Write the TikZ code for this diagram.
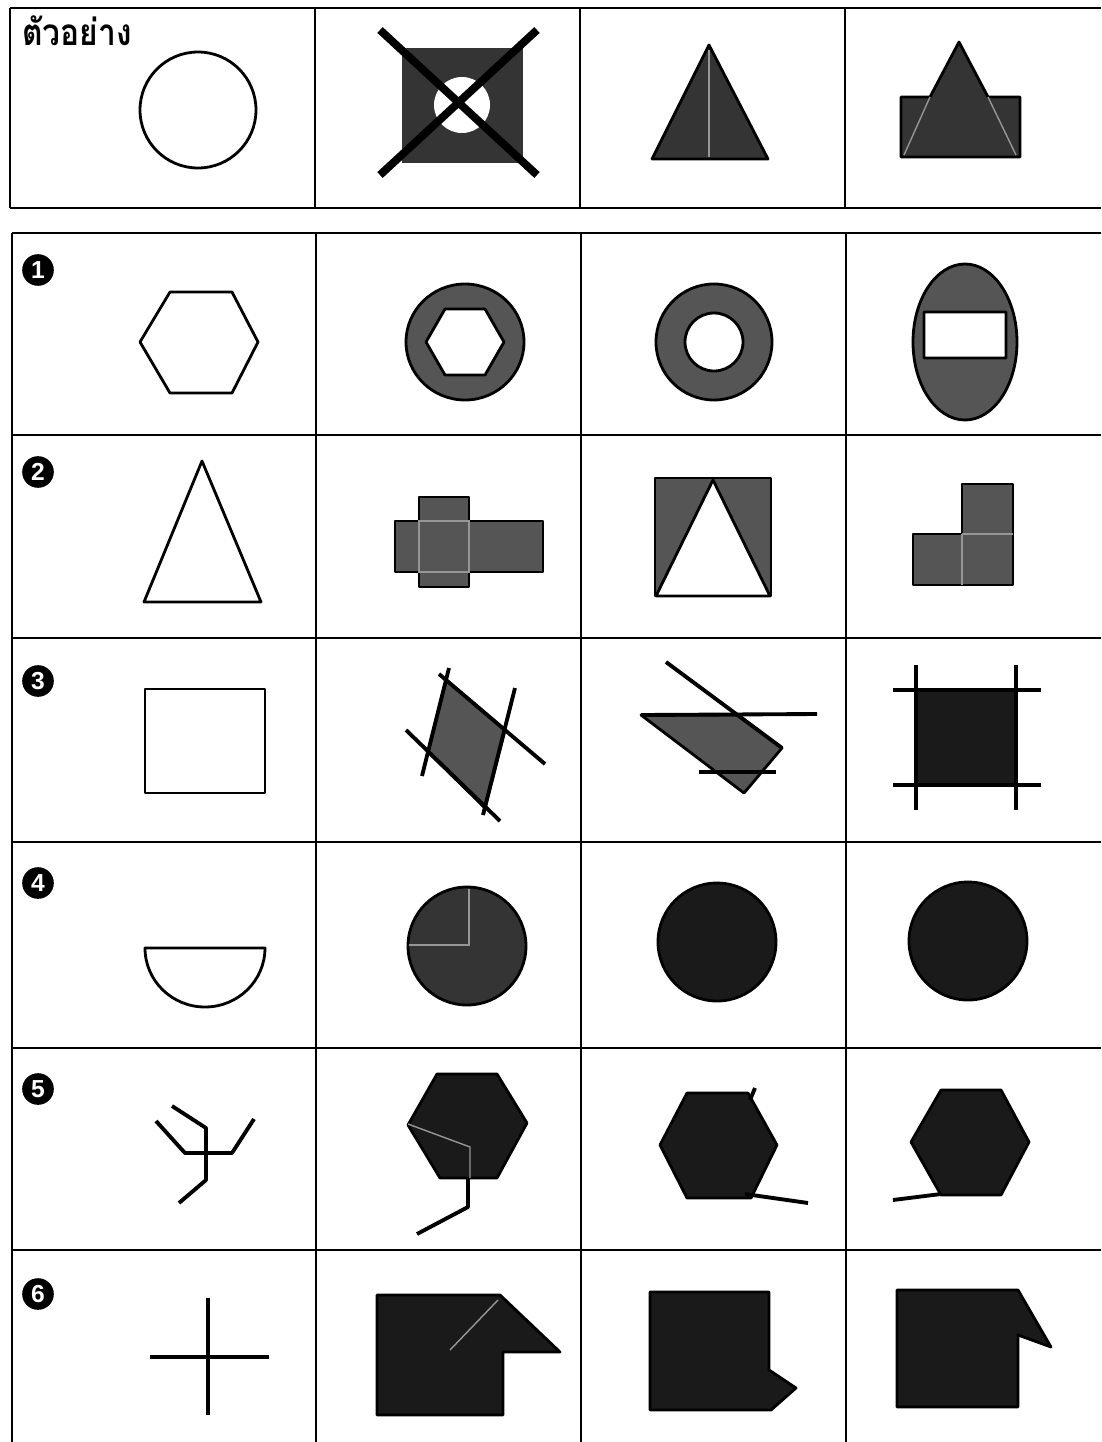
\documentclass[tikz,border=0pt]{standalone}
\usepackage{fontspec}
\setsansfont{Liberation Sans}
\newfontfamily\thaifont[Script=Thai]{Loma}
\usetikzlibrary{positioning,calc}
\definecolor{shgray}{RGB}{85,85,85}
\definecolor{shdark}{RGB}{52,52,52}
\definecolor{shblack}{RGB}{26,26,26}
\definecolor{ghostgray}{RGB}{150,150,150}

\begin{document}
\begin{tikzpicture}[x=0.2mm, y=-0.2mm,
  hline/.style={line width=1.3pt},
  vline/.style={line width=0.7pt},
  outl/.style={draw=black, line width=1.6pt, line join=round},
  shp/.style={draw=black, line width=1.6pt, line join=round, fill=#1},
  ghost/.style={draw=ghostgray, line width=0.8pt},
  stick/.style={line width=2.2pt, line join=round},
  cross/.style={line width=4.5pt},
  num/.style={circle, fill=black, text=white, inner sep=0pt, minimum size=18pt,
              font=\sffamily\bfseries\fontsize{14}{14}\selectfont}
]
\useasboundingbox (0,0) rectangle (1101,1442);
\fill[white] (0,0) rectangle (1101,1442);

% Grid: example table
\draw[hline] (10,8) -- (1101,8);
\draw[hline] (10,208) -- (1101,208);
\draw[vline] (10,8) -- (10,208);
\foreach \cx in {315,580,845} \draw[vline] (\cx,8) -- (\cx,208);

% Grid: main table
\foreach \ry in {233,435,638,842,1048,1250} \draw[hline] (12,\ry) -- (1101,\ry);
\draw[vline] (12,233) -- (12,1442);
\foreach \cx in {316,581,846} \draw[vline] (\cx,233) -- (\cx,1442);

% Example row
\node[font=\thaifont\bfseries\fontsize{21}{24}\selectfont, anchor=north west, inner sep=0pt] (lbl) at (22,15) {\scalebox{0.86}[1]{ตัวอย่าง}};
\draw[outl] (198,110) circle (58);
\fill[shdark] (402,48) rectangle (523,163);
\fill[white] (462,105) circle (28);
\draw[cross] (380,30) -- (537,175);
\draw[cross] (537,30) -- (380,175);
\draw[shp=shdark] (709,45) -- (768,159) -- (652,159) -- cycle;
\draw[ghost] (709,50) -- (709,157);
\draw[shp=shdark] (959,42) -- (988,97) -- (1020,97) -- (1020,157) -- (901,157) -- (901,97) -- (930,97) -- cycle;
\draw[ghost] (930,97) -- (904,155) (988,97) -- (1016,155);

% Row 1
\node[num] (n1) at (38,270) {1};
\draw[outl] (170,292) -- (232,292) -- (258,342) -- (232,393) -- (170,393) -- (140,342) -- cycle;
\draw[shp=shgray, even odd rule] (465,342) ellipse [x radius=59, y radius=58]
  (445,309) -- (485,309) -- (504,342) -- (485,375) -- (445,375) -- (426,342) -- cycle;
\draw[shp=shgray, even odd rule] (714,342) circle (58) (714,342) circle (29);
\draw[shp=shgray, even odd rule] (965,342) ellipse [x radius=52, y radius=78]
  (924,312) rectangle (1006,358);

% Row 2
\node[num] (n2) at (38,472) {2};
\draw[outl] (202,461) -- (261,602) -- (144,602) -- cycle;
\draw[shp=shgray] (419,497) -- (469,497) -- (469,521) -- (543,521) -- (543,572) -- (469,572)
  -- (469,587) -- (419,587) -- (419,572) -- (395,572) -- (395,521) -- (419,521) -- cycle;
\draw[ghost] (419,521) rectangle (469,572);
\draw[shp=shgray] (655,478) rectangle (771,596);
\draw[shp=white] (713,480) -- (770,596) -- (656,596) -- cycle;
\draw[shp=shgray] (962,484) -- (1013,484) -- (1013,585) -- (913,585) -- (913,534) -- (962,534) -- cycle;
\draw[ghost] (962,534) -- (1013,534) (962,534) -- (962,585);

% Row 3
\node[num] (n3) at (38,681) {3};
\draw[outl] (145,689) rectangle (265,793);
\draw[shp=shgray] (446,680) -- (505,730) -- (485,808) -- (428,752) -- cycle;
\draw[stick] (449,668) -- (422,776);
\draw[stick] (515,688) -- (483,815);
\draw[stick] (406,730) -- (500,821);
\draw[stick] (439,674) -- (545,764);
\draw[shp=shgray] (641,715) -- (738,715) -- (782,748) -- (744,793) -- cycle;
\draw[stick] (666,662) -- (782,748);
\draw[stick] (641,715) -- (817,714);
\draw[stick] (699,772) -- (776,772);
\fill[shblack] (916,690) rectangle (1016,785);
\draw[stick] (893,690) -- (1041,690) (893,785) -- (1041,785);
\draw[stick] (916,665) -- (916,810) (1016,665) -- (1016,810);

% Row 4
\node[num] (n4) at (38,883) {4};
\draw[outl] (265,948) arc[start angle=0, end angle=180, x radius=60, y radius=59] -- cycle;
\draw[shp=shdark] (467,946) circle (59);
\draw[ghost] (469,889) -- (469,945) -- (409,945);
\draw[shp=shblack] (717,942) circle (59);
\draw[shp=shblack] (968,941) circle (59);

% Row 5
\node[num] (n5) at (38,1089) {5};
\draw[stick] (172,1106) -- (206,1128) -- (206,1180) -- (179,1203);
\draw[stick] (156,1121) -- (185,1153) -- (232,1153) -- (254,1119);
\draw[shp=shblack] (437,1074) -- (497,1074) -- (527,1123) -- (497,1178) -- (440,1178) -- (408,1125) -- cycle;
\draw[ghost] (408,1124) -- (470,1147) -- (470,1178);
\draw[stick] (468,1178) -- (468,1207) -- (417,1234);
\draw[shp=shblack] (687,1093) -- (748,1093) -- (777,1145) -- (751,1198) -- (687,1198) -- (660,1145) -- cycle;
\draw[stick] (755,1088) -- (750,1100);
\draw[stick] (745,1194) -- (808,1203);
\draw[shp=shblack] (941,1090) -- (1001,1090) -- (1029,1142) -- (1001,1195) -- (941,1195) -- (911,1142) -- cycle;
\draw[stick] (941,1194) -- (893,1200);

% Row 6
\node[num] (n6) at (38,1294) {6};
\draw[stick] (150,1357) -- (269,1357);
\draw[stick] (208,1298) -- (208,1415);
\draw[shp=shblack] (377,1295) -- (500,1295) -- (560,1352) -- (503,1352) -- (503,1415) -- (377,1415) -- cycle;
\draw[ghost] (498,1300) -- (450,1350);
\draw[shp=shblack] (650,1292) -- (769,1292) -- (769,1370) -- (796,1388) -- (771,1410) -- (650,1410) -- cycle;
\draw[shp=shblack] (897,1290) -- (1018,1290) -- (1051,1347) -- (1018,1335) -- (1018,1407) -- (897,1407) -- cycle;
\end{tikzpicture}
\end{document}
